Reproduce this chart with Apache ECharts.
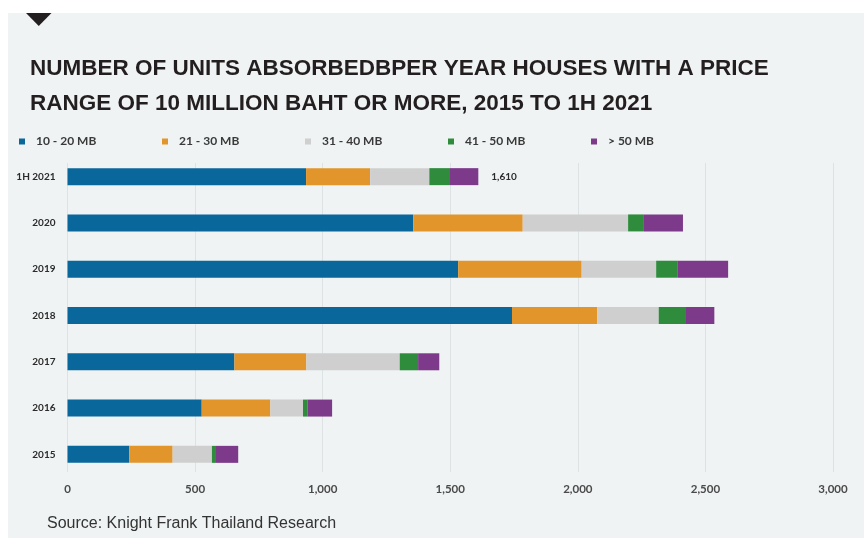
<!DOCTYPE html>
<html>
<head>
<meta charset="utf-8">
<script src="https://cdn.jsdelivr.net/npm/echarts@6/dist/echarts.min.js"></script>
<style>
  html, body { margin: 0; padding: 0; background: #ffffff; }
  #chart { width: 864px; height: 538px; }
</style>
</head>
<body>
<div id="chart"></div>
<script>
// Units absorbed per year, houses priced 10 MB and above (stacked by price band)
const categories = ['1H 2021', '2020', '2019', '2018', '2017', '2016', '2015'];
const bandNames = ['10 - 20 MB', '21 - 30 MB', '31 - 40 MB', '41 - 50 MB', '> 50 MB'];
const band10to20 = [935, 1355, 1531, 1742, 654, 526, 242];
const band21to30 = [251, 429, 484, 334, 282, 269, 170];
const band31to40 = [232, 413, 292, 241, 366, 128, 154];
const band41to50 = [81, 62, 85, 107, 72, 17, 16];
const bandOver50 = [111, 153, 197, 111, 83, 97, 87];
const xTickValues = [0, 500, 1000, 1500, 2000, 2500, 3000];
const totalLabelCategories = ['1H 2021'];

const bandValues = [band10to20, band21to30, band31to40, band41to50, bandOver50];
const bandColors = ['#0a679b', '#e2952b', '#cfcfcf', '#2f8c3d', '#7d3a8b'];

const chart = echarts.init(document.getElementById('chart'), null, { renderer: 'canvas' });

const labelFont = 'Lato, "Open Sans", sans-serif';

function totalAt(i) {
  return bandValues.reduce((s, arr) => s + arr[i], 0);
}

const series = bandNames.map((name, k) => {
  const isLast = k === bandNames.length - 1;
  return {
    name: name,
    type: 'bar',
    stack: 'units',
    xAxisIndex: 0,
    yAxisIndex: 0,
    barWidth: 17,
    itemStyle: { color: bandColors[k] },
    emphasis: { disabled: true },
    data: bandValues[k].map((v, i) => {
      if (isLast && totalLabelCategories.indexOf(categories[i]) >= 0) {
        return { value: v, label: { show: true } };
      }
      return v;
    }),
    label: {
      show: false,
      position: 'right',
      distance: 13,
      formatter: (p) => totalAt(p.dataIndex).toLocaleString('en-US'),
      fontFamily: labelFont,
      fontWeight: 'bold',
      fontSize: 10,
      color: '#2b2b2b'
    }
  };
});

const legends = bandNames.map((name, k) => ({
  data: [name],
  left: 19 + 143 * k,
  top: 135.5,
  padding: 0,
  icon: 'rect',
  itemWidth: 6,
  itemHeight: 6,
  selectedMode: false,
  textStyle: {
    fontFamily: labelFont,
    fontWeight: 'bold',
    fontSize: 12,
    color: '#3a3a3a',
    padding: [0, 0, 0, 6]
  }
}));

const option = {
  animation: false,
  graphic: [
    {
      type: 'rect',
      z: -10,
      shape: { x: 8, y: 13, width: 856, height: 525 },
      style: { fill: '#eff3f3' },
      silent: true
    },
    {
      type: 'polygon',
      z: 10,
      shape: { points: [[26, 13], [51.5, 13], [38.75, 26]] },
      style: { fill: '#231f20' },
      silent: true
    }
  ],
  title: [
    {
      text: 'NUMBER OF UNITS ABSORBEDBPER YEAR HOUSES WITH A PRICE\nRANGE OF 10 MILLION BAHT OR MORE, 2015 TO 1H 2021',
      left: 30,
      top: 51,
      padding: 0,
      textStyle: {
        fontFamily: '"Liberation Sans", Arial, sans-serif',
        fontWeight: 'bold',
        fontSize: 22.5,
        lineHeight: 35,
        color: '#231f20'
      }
    },
    {
      text: 'Source: Knight Frank Thailand Research',
      left: 47,
      top: 515,
      padding: 0,
      textStyle: {
        fontFamily: '"Liberation Sans", Arial, sans-serif',
        fontWeight: 'normal',
        fontSize: 16,
        lineHeight: 18,
        color: '#333333'
      }
    }
  ],
  legend: legends,
  grid: [
    { left: 67.5, right: 31, top: 153.5, bottom: 60.5 },
    { left: 67.5, right: 31, top: 163, bottom: 66 }
  ],
  xAxis: [
    {
      type: 'value',
      gridIndex: 0,
      min: xTickValues[0],
      max: xTickValues[xTickValues.length - 1],
      interval: xTickValues[1] - xTickValues[0],
      axisLine: { show: false },
      axisTick: { show: false },
      splitLine: { show: false },
      axisLabel: {
        margin: 6,
        fontFamily: labelFont,
        fontWeight: 'bold',
        fontSize: 11.5,
        color: '#4a4a4a',
        formatter: (v) => v.toLocaleString('en-US')
      }
    },
    {
      type: 'value',
      gridIndex: 1,
      min: xTickValues[0],
      max: xTickValues[xTickValues.length - 1],
      interval: xTickValues[1] - xTickValues[0],
      axisLine: { show: false },
      axisTick: { show: false },
      axisLabel: { show: false },
      splitLine: { show: true, lineStyle: { color: '#dde3e5', width: 1 } }
    }
  ],
  yAxis: [
    {
      type: 'category',
      gridIndex: 0,
      data: categories,
      inverse: true,
      axisLine: { show: false },
      axisTick: { show: false },
      splitLine: { show: false },
      axisLabel: {
        margin: 12,
        fontFamily: labelFont,
        fontWeight: 'bold',
        fontSize: 10,
        color: '#2b2b2b'
      }
    },
    {
      type: 'value',
      gridIndex: 1,
      show: false,
      min: 0,
      max: 1
    }
  ],
  series: series
};

chart.setOption(option);
</script>
</body>
</html>
